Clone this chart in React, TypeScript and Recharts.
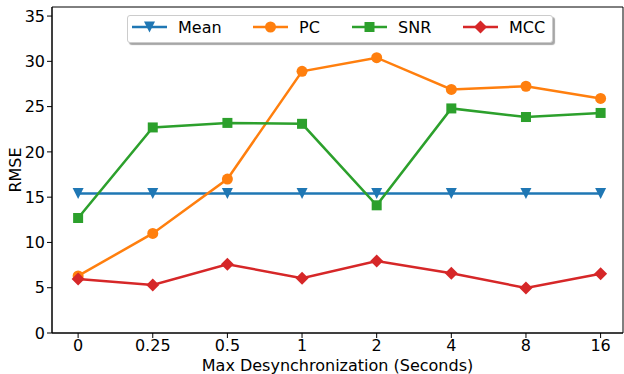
import { LineChart, Line, XAxis, YAxis, Legend, ReferenceArea } from 'recharts';

const categories = ['0', '0.25', '0.5', '1', '2', '4', '8', '16'];
const meanValues = [15.4, 15.4, 15.4, 15.4, 15.4, 15.4, 15.4, 15.4];
const pcValues = [6.3, 11.0, 17.0, 28.9, 30.4, 26.9, 27.25, 25.9];
const snrValues = [12.7, 22.7, 23.2, 23.1, 14.1, 24.8, 23.85, 24.3];
const mccValues = [5.95, 5.3, 7.6, 6.05, 7.95, 6.6, 4.97, 6.55];
const yTicks = [0, 5, 10, 15, 20, 25, 30, 35];

const data = categories.map((name, i) => ({
  idx: i,
  name,
  mean: meanValues[i],
  pc: pcValues[i],
  snr: snrValues[i],
  mcc: mccValues[i],
}));

const FONT = '"DejaVu Sans", sans-serif';

const series = [
  { key: 'mean', name: 'Mean', color: '#1f77b4', shape: 'triangle' },
  { key: 'pc', name: 'PC', color: '#ff7f0e', shape: 'circle' },
  { key: 'snr', name: 'SNR', color: '#2ca02c', shape: 'square' },
  { key: 'mcc', name: 'MCC', color: '#d62728', shape: 'diamond' },
];

function Marker({ shape, color, cx, cy }: { shape: string; color: string; cx: number; cy: number }) {
  if (shape === 'triangle') {
    const s = 5.5;
    return <polygon points={`${cx - s},${cy - s} ${cx + s},${cy - s} ${cx},${cy + s}`} fill={color} />;
  }
  if (shape === 'circle') return <circle cx={cx} cy={cy} r={5.5} fill={color} />;
  if (shape === 'square') return <rect x={cx - 5} y={cy - 5} width={10} height={10} fill={color} />;
  const d = 6.5;
  return <polygon points={`${cx},${cy - d} ${cx + d},${cy} ${cx},${cy + d} ${cx - d},${cy}`} fill={color} />;
}

const renderDot = (shape: string, color: string) => (props: any) => {
  const { cx, cy, index } = props;
  if (cx == null || cy == null) return <g key={index} />;
  return <Marker key={index} shape={shape} color={color} cx={cx} cy={cy} />;
};

// legend slots, relative to the legend box
const legendSlots = [5, 126, 225, 336];

function renderLegend() {
  return (
    <div
      style={{
        width: 426,
        height: 28,
        boxSizing: 'border-box',
        border: '1px solid #cccccc',
        borderRadius: 3,
        background: '#ffffff',
        boxShadow: '2px 2px 1px rgba(0,0,0,0.35)',
      }}
    >
      <svg width={424} height={26} style={{ display: 'block' }}>
        {series.map((s, i) => {
          const x0 = legendSlots[i] - 1;
          return (
            <g key={s.key}>
              <line x1={x0} x2={x0 + 35} y1={11} y2={11} stroke={s.color} strokeWidth={2.5} />
              <Marker shape={s.shape} color={s.color} cx={x0 + 17.5} cy={11} />
              <text x={x0 + 46} y={17} fontFamily={FONT} fontSize={16} fill="#000">
                {s.name}
              </text>
            </g>
          );
        })}
      </svg>
    </div>
  );
}

export default function App() {
  return (
    <div style={{ position: 'absolute', left: 0, top: 0, background: '#fff' }}>
      <LineChart width={624} height={374} data={data} margin={{ top: 7, right: 1, left: 0, bottom: 0 }}>
        <XAxis
          dataKey="idx"
          type="number"
          domain={[-0.35, 7.3]}
          ticks={[0, 1, 2, 3, 4, 5, 6, 7]}
          tickFormatter={(v: number) => categories[v]}
          allowDataOverflow
          height={41}
          tickSize={5}
          tickMargin={2}
          stroke="#000"
          tick={{ fill: '#000', fontSize: 16, fontFamily: FONT }}
          label={{
            content: ({ viewBox }: any) => (
              <text
                x={viewBox.x + viewBox.width / 2}
                y={370.5}
                textAnchor="middle"
                fontFamily={FONT}
                fontSize={16}
                fill="#000"
              >
                Max Desynchronization (Seconds)
              </text>
            ),
          }}
        />
        <YAxis
          type="number"
          domain={[0, 36]}
          ticks={yTicks}
          width={52}
          tickSize={5}
          tickMargin={2}
          stroke="#000"
          tick={{ fill: '#000', fontSize: 16, fontFamily: FONT }}
          label={{
            content: ({ viewBox }: any) => {
              const cy = viewBox.y + viewBox.height / 2;
              return (
                <text
                  x={21}
                  y={cy}
                  transform={`rotate(-90 21 ${cy})`}
                  textAnchor="middle"
                  fontFamily={FONT}
                  fontSize={16}
                  fill="#000"
                >
                  RMSE
                </text>
              );
            },
          }}
        />
        <ReferenceArea x1={-0.35} x2={7.3} y1={0} y2={36} fill="none" stroke="#000" strokeWidth={1} />
        <Legend
          layout="horizontal"
          verticalAlign="middle"
          align="center"
          content={renderLegend}
          wrapperStyle={{ position: 'absolute', left: 127, top: 15, width: 426, height: 28 }}
        />
        {series.map((s) => (
          <Line
            key={s.key}
            type="linear"
            dataKey={s.key}
            name={s.name}
            stroke={s.color}
            strokeWidth={2.5}
            dot={renderDot(s.shape, s.color)}
            activeDot={false}
            isAnimationActive={false}
          />
        ))}
      </LineChart>
    </div>
  );
}
